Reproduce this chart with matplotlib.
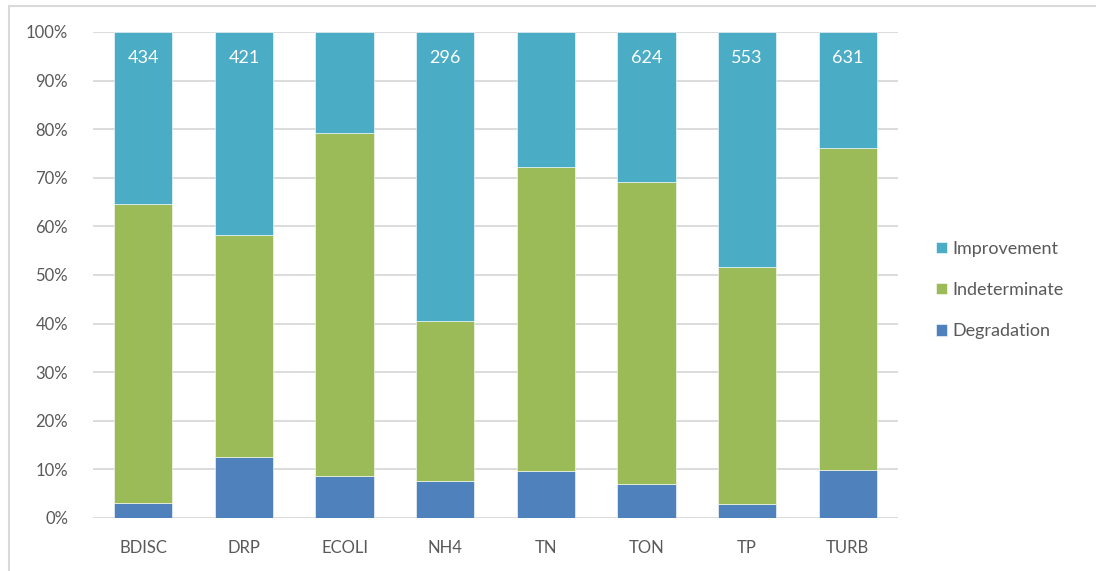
import numpy as np
import matplotlib
matplotlib.use('Agg')
import matplotlib.pyplot as plt
from matplotlib.patches import Rectangle
from matplotlib.ticker import PercentFormatter

plt.rcParams['font.family'] = ['Lato', 'DejaVu Sans']

params = ['BDISC', 'DRP', 'ECOLI', 'NH4', 'TN', 'TON', 'TP', 'TURB']
degradation = np.array([3.1, 12.6, 8.7, 7.7, 9.7, 6.9, 2.8, 9.9])
indeterminate = np.array([61.5, 45.6, 70.6, 32.8, 62.5, 62.2, 48.8, 66.2])
improvement = 100 - degradation - indeterminate
site_counts = [434, 421, None, 296, None, 624, 553, 631]

c_imp = '#4BACC6'
c_ind = '#9BBB59'
c_deg = '#4F81BD'
grey_text = '#595959'
grid_col = '#D9D9D9'

fig = plt.figure(figsize=(10.96, 5.71), dpi=100)
# outer chart frame
fig.patches.append(Rectangle((8.5 / 1096, -0.1), 1.2, 1 - 5.5 / 571 + 0.1,
                             transform=fig.transFigure, fill=False,
                             edgecolor=grid_col, linewidth=1.5))

ax = fig.add_axes([93 / 1096, 1 - 518 / 571, (898 - 93) / 1096, (518 - 32) / 571])
x = np.arange(len(params))
w = 0.58
ax.bar(x, degradation, w, color=c_deg, edgecolor='white', linewidth=0.4, label='Degradation', zorder=3)
ax.bar(x, indeterminate, w, bottom=degradation, color=c_ind, edgecolor='white', linewidth=0.4,
       label='Indeterminate', zorder=3)
ax.bar(x, improvement, w, bottom=degradation + indeterminate, color=c_imp, edgecolor='white',
       linewidth=0.4, label='Improvement', zorder=3)

for xi, n in zip(x, site_counts):
    if n is not None:
        ax.text(xi, 94.6, str(n), ha='center', va='center', color='white', fontsize=13, zorder=4)

ax.set_xlim(-0.5, len(params) - 0.5)
ax.set_ylim(0, 100)
ax.set_yticks(np.arange(0, 101, 10))
ax.yaxis.set_major_formatter(PercentFormatter(decimals=0))
ax.set_xticks(x)
ax.set_xticklabels(params)
ax.grid(axis='y', color=grid_col, linewidth=1.3, zorder=0)
for s in ax.spines.values():
    s.set_visible(False)
ax.tick_params(length=0, labelsize=12, colors=grey_text)
ax.tick_params(axis='y', pad=18)
ax.tick_params(axis='x', pad=16)

handles, labels = ax.get_legend_handles_labels()
fig.legend(handles[::-1], labels[::-1], loc='center left', bbox_to_anchor=(920 / 1096, 1 - 290 / 571),
           frameon=False, fontsize=13, labelcolor=grey_text, handlelength=0.6, handleheight=0.6,
           handletextpad=0.3, labelspacing=1.4)

fig.savefig('out.png', dpi=100)
